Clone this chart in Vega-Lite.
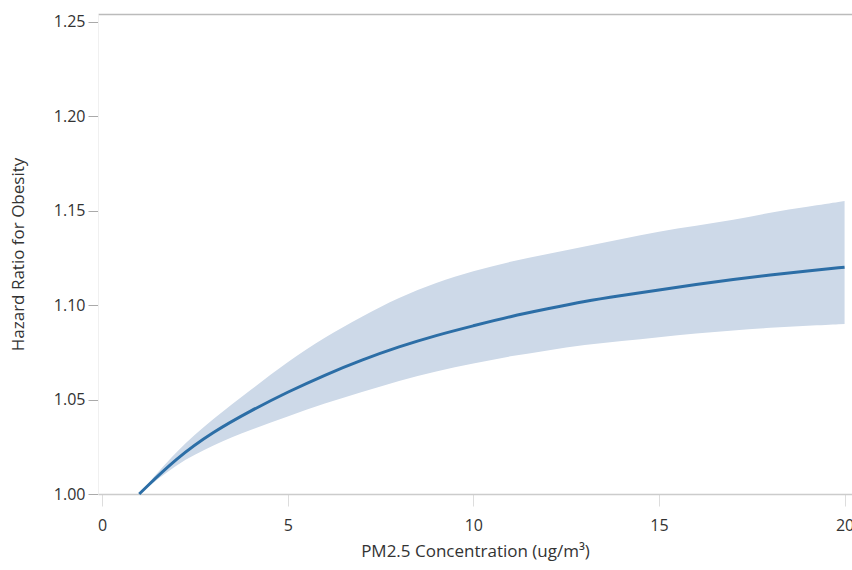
{
  "$schema": "https://vega.github.io/schema/vega-lite/v6.json",
  "width": 754,
  "height": 480,
  "autosize": {"type": "none"},
  "padding": {"left": 98, "top": 14, "right": 0, "bottom": 76},
  "background": "white",
  "config": {"view": {"stroke": null}, "font": "Open Sans"},
  "data": {
    "values": [
      {"pm": 1, "hr": 1.000, "lo": 1.000, "hi": 1.000},
      {"pm": 2, "hr": 1.019, "lo": 1.016, "hi": 1.023},
      {"pm": 3, "hr": 1.033, "lo": 1.026, "hi": 1.040},
      {"pm": 4, "hr": 1.044, "lo": 1.034, "hi": 1.055},
      {"pm": 5, "hr": 1.054, "lo": 1.041, "hi": 1.070},
      {"pm": 6, "hr": 1.063, "lo": 1.048, "hi": 1.083},
      {"pm": 7, "hr": 1.071, "lo": 1.054, "hi": 1.094},
      {"pm": 8, "hr": 1.078, "lo": 1.060, "hi": 1.104},
      {"pm": 9, "hr": 1.084, "lo": 1.065, "hi": 1.112},
      {"pm": 10, "hr": 1.089, "lo": 1.069, "hi": 1.118},
      {"pm": 11, "hr": 1.094, "lo": 1.073, "hi": 1.123},
      {"pm": 12, "hr": 1.098, "lo": 1.076, "hi": 1.127},
      {"pm": 13, "hr": 1.102, "lo": 1.079, "hi": 1.131},
      {"pm": 14, "hr": 1.105, "lo": 1.081, "hi": 1.135},
      {"pm": 15, "hr": 1.108, "lo": 1.083, "hi": 1.139},
      {"pm": 16, "hr": 1.111, "lo": 1.085, "hi": 1.142},
      {"pm": 17, "hr": 1.1135, "lo": 1.0865, "hi": 1.145},
      {"pm": 18, "hr": 1.116, "lo": 1.088, "hi": 1.149},
      {"pm": 19, "hr": 1.118, "lo": 1.089, "hi": 1.152},
      {"pm": 20, "hr": 1.120, "lo": 1.090, "hi": 1.155}
    ]
  },
  "layer": [
    {
      "mark": {"type": "area", "color": "#cdd9e8", "opacity": 1, "interpolate": "basis"},
      "encoding": {
        "x": {
          "field": "pm", "type": "quantitative",
          "scale": {"domain": [-0.11, 20.2], "nice": false, "zero": false},
          "axis": {"orient": "top", "labels": false, "ticks": false, "title": null, "grid": false, "domainColor": "#bbbbbb", "domainWidth": 1.5}
        },
        "y": {
          "field": "lo", "type": "quantitative",
          "scale": {"domain": [1.0, 1.254], "nice": false, "zero": false},
          "axis": {
            "title": "Hazard Ratio for Obesity", "values": [1.0, 1.05, 1.1, 1.15, 1.2, 1.25], "format": ".2f",
            "grid": false, "domainColor": "#f0f0f0", "tickColor": "#aaaaaa", "tickSize": 10, "labelPadding": 3,
            "labelFontSize": 16, "labelColor": "#333333", "titleFontSize": 17, "titleColor": "#333333",
            "titleFontWeight": "normal", "titleX": -80, "titleBaseline": "middle"
          }
        },
        "y2": {"field": "hi"}
      }
    },
    {
      "mark": {"type": "line", "color": "#2c6ea6", "strokeWidth": 3, "interpolate": "basis"},
      "encoding": {
        "x": {
          "field": "pm", "type": "quantitative",
          "axis": {
            "orient": "bottom", "title": "PM2.5 Concentration (ug/m³)", "values": [0, 5, 10, 15, 20],
            "grid": false, "domainColor": "#cccccc", "domainWidth": 1.5, "tickColor": "#dddddd", "tickSize": 12,
            "labelPadding": 19, "labelBaseline": "middle", "labelFontSize": 16, "labelColor": "#333333",
            "titleFontSize": 17, "titleColor": "#333333", "titleFontWeight": "normal", "titleY": 57, "titleBaseline": "middle"
          }
        },
        "y": {
          "field": "hr", "type": "quantitative",
          "axis": {
            "title": "Hazard Ratio for Obesity", "values": [1.0, 1.05, 1.1, 1.15, 1.2, 1.25], "format": ".2f",
            "grid": false, "domainColor": "#f0f0f0", "tickColor": "#aaaaaa", "tickSize": 10, "labelPadding": 3,
            "labelFontSize": 16, "labelColor": "#333333", "titleFontSize": 17, "titleColor": "#333333",
            "titleFontWeight": "normal", "titleX": -80, "titleBaseline": "middle"
          }
        }
      }
    }
  ],
  "resolve": {"axis": {"x": "independent"}}
}
